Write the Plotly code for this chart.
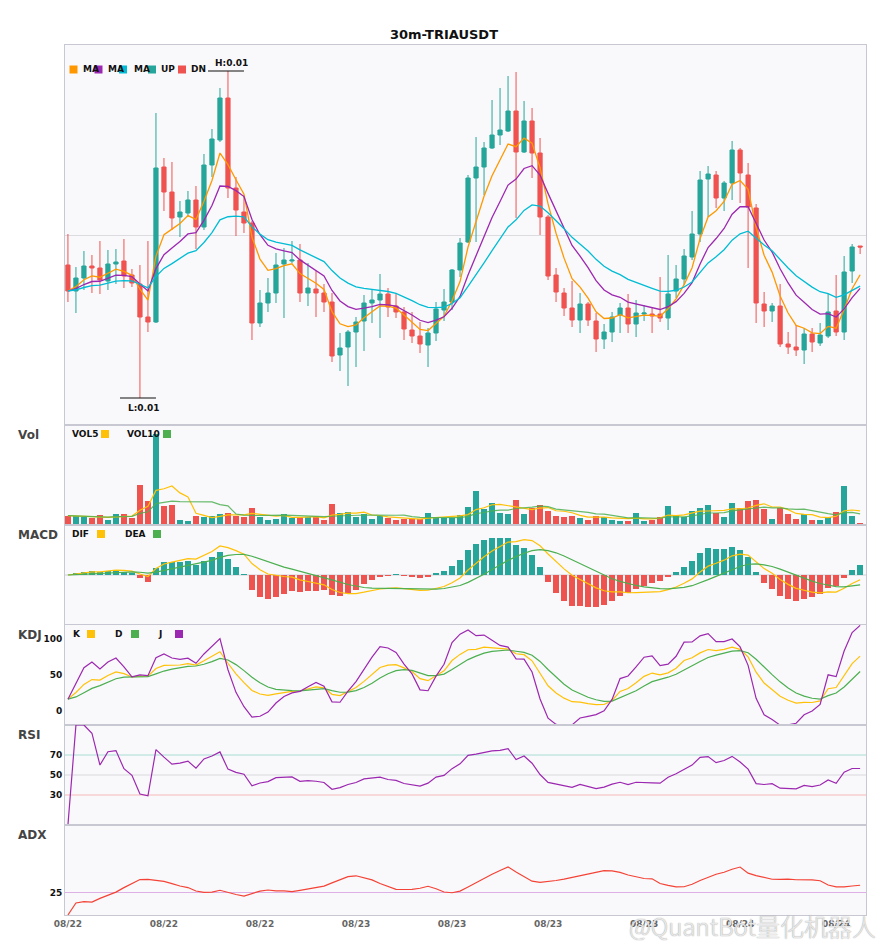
import numpy as np
import pandas as pd
import plotly.graph_objects as go
from plotly.subplots import make_subplots

symbol = "TRIAUSDT"
interval = "30m"
times = pd.date_range("2025-08-22 06:00", periods=100, freq="30min")

open_ = [0.00970, 0.00944, 0.00957, 0.00969, 0.00967, 0.00954, 0.00971, 0.00974, 0.00960, 0.00951,
         0.00918, 0.00913, 0.01068, 0.01043, 0.01018, 0.01022, 0.01035, 0.01008, 0.01070, 0.01095,
         0.01137, 0.01047, 0.01023, 0.01012, 0.00912, 0.00932, 0.00942, 0.00971, 0.00974, 0.00975,
         0.00942, 0.00946, 0.00942, 0.00933, 0.00880, 0.00888, 0.00903, 0.00914, 0.00932, 0.00935,
         0.00941, 0.00929, 0.00923, 0.00905, 0.00899, 0.00890, 0.00902, 0.00925, 0.00933, 0.00965,
         0.00993, 0.01057, 0.01068, 0.01087, 0.01100, 0.01104, 0.01124, 0.01083, 0.01114, 0.01082,
         0.01018, 0.00960, 0.00942, 0.00927, 0.00915, 0.00931, 0.00914, 0.00896, 0.00903, 0.00920,
         0.00927, 0.00911, 0.00921, 0.00921, 0.00921, 0.00917, 0.00944, 0.00956, 0.00978, 0.01001,
         0.01056, 0.01060, 0.01037, 0.01052, 0.01085, 0.01060, 0.01027, 0.00931, 0.00924, 0.00929,
         0.00891, 0.00888, 0.00885, 0.00901, 0.00892, 0.00899, 0.00924, 0.00903, 0.00964, 0.00989]
high = [0.01001, 0.00968, 0.00984, 0.00980, 0.00994, 0.00985, 0.00986, 0.00996, 0.00966, 0.00970,
        0.00994, 0.01122, 0.01077, 0.01073, 0.01034, 0.01044, 0.01049, 0.01081, 0.01106, 0.01147,
        0.01164, 0.01058, 0.01040, 0.01014, 0.00945, 0.00957, 0.00982, 0.00987, 0.00994, 0.00991,
        0.00972, 0.00964, 0.00951, 0.00942, 0.00902, 0.00905, 0.00918, 0.00940, 0.00945, 0.00961,
        0.00947, 0.00942, 0.00928, 0.00923, 0.00913, 0.00907, 0.00933, 0.00946, 0.00966, 0.00997,
        0.01060, 0.01098, 0.01093, 0.01135, 0.01147, 0.01159, 0.01163, 0.01134, 0.01127, 0.01097,
        0.01020, 0.00967, 0.00947, 0.00954, 0.00942, 0.00933, 0.00922, 0.00911, 0.00923, 0.00932,
        0.00941, 0.00935, 0.00930, 0.00927, 0.00958, 0.00980, 0.00970, 0.00986, 0.01024, 0.01064,
        0.01069, 0.01064, 0.01054, 0.01094, 0.01087, 0.01072, 0.01031, 0.00943, 0.00932, 0.00951,
        0.00903, 0.00910, 0.00907, 0.00907, 0.00912, 0.00941, 0.00960, 0.00979, 0.00991, 0.00989]
low = [0.00933, 0.00922, 0.00945, 0.00942, 0.00941, 0.00945, 0.00951, 0.00947, 0.00948, 0.00837,
       0.00903, 0.00912, 0.01024, 0.01005, 0.00998, 0.01018, 0.00986, 0.01005, 0.01058, 0.01093,
       0.01037, 0.00999, 0.01002, 0.00895, 0.00908, 0.00923, 0.00932, 0.00917, 0.00972, 0.00933,
       0.00929, 0.00918, 0.00923, 0.00873, 0.00864, 0.00849, 0.00868, 0.00884, 0.00912, 0.00897,
       0.00918, 0.00917, 0.00895, 0.00892, 0.00882, 0.00868, 0.00894, 0.00914, 0.00925, 0.00958,
       0.00992, 0.00993, 0.01040, 0.01086, 0.01090, 0.01103, 0.01017, 0.01082, 0.01057, 0.01000,
       0.00955, 0.00933, 0.00919, 0.00908, 0.00902, 0.00909, 0.00883, 0.00886, 0.00893, 0.00902,
       0.00902, 0.00898, 0.00914, 0.00902, 0.00913, 0.00905, 0.00937, 0.00950, 0.00975, 0.00993,
       0.01018, 0.01027, 0.01024, 0.01035, 0.01032, 0.00967, 0.00912, 0.00908, 0.00913, 0.00888,
       0.00881, 0.00879, 0.00871, 0.00883, 0.00889, 0.00897, 0.00899, 0.00895, 0.00952, 0.00981]
close = [0.00944, 0.00957, 0.00969, 0.00967, 0.00955, 0.00971, 0.00973, 0.00959, 0.00952, 0.00918,
         0.00913, 0.01067, 0.01043, 0.01017, 0.01023, 0.01035, 0.01008, 0.01070, 0.01096, 0.01137,
         0.01047, 0.01025, 0.01012, 0.00912, 0.00932, 0.00942, 0.00970, 0.00975, 0.00975, 0.00942,
         0.00947, 0.00942, 0.00933, 0.00879, 0.00887, 0.00903, 0.00913, 0.00932, 0.00935, 0.00941,
         0.00928, 0.00923, 0.00906, 0.00899, 0.00891, 0.00902, 0.00926, 0.00933, 0.00965, 0.00992,
         0.01057, 0.01068, 0.01087, 0.01100, 0.01105, 0.01124, 0.01083, 0.01114, 0.01082, 0.01018,
         0.00959, 0.00943, 0.00927, 0.00915, 0.00931, 0.00915, 0.00896, 0.00903, 0.00918, 0.00927,
         0.00911, 0.00922, 0.00922, 0.00919, 0.00917, 0.00941, 0.00956, 0.00979, 0.01001, 0.01055,
         0.01061, 0.01037, 0.01052, 0.01085, 0.01062, 0.01028, 0.00932, 0.00924, 0.00929, 0.00891,
         0.00888, 0.00885, 0.00901, 0.00893, 0.00900, 0.00923, 0.00903, 0.00963, 0.00988, 0.00988]
volume = [9300, 8700, 7700, 6700, 10300, 4700, 11300, 11300, 6700, 39300,
          24300, 90300, 19300, 20300, 5300, 4300, 9300, 8300, 9300, 11300,
          12300, 9300, 7700, 17300, 7700, 5300, 6300, 11300, 7000, 7700,
          7700, 7700, 5300, 20700, 11700, 13300, 7700, 10700, 6300, 9300,
          6700, 5300, 5700, 5700, 5700, 11700, 8300, 7300, 7300, 10300,
          18300, 33300, 16300, 22300, 12300, 11300, 25300, 10700, 16700, 20300,
          13700, 9300, 8300, 9300, 7300, 5300, 9300, 8300, 5300, 4300,
          4300, 12300, 4300, 5300, 8300, 19300, 9300, 8300, 14300, 17300,
          20300, 12300, 8300, 22300, 17300, 24300, 25300, 16300, 6300, 17300,
          11300, 6300, 11300, 5300, 5300, 8300, 13300, 38300, 9300, 1300]

df = pd.DataFrame({"open": open_, "high": high, "low": low, "close": close, "vol": volume}, index=times)

# indicators
df["ma5"] = df["close"].ewm(span=5, adjust=False).mean()
df["ma10"] = df["close"].ewm(span=10, adjust=False).mean()
df["ma20"] = df["close"].ewm(span=20, adjust=False).mean()
df["vol5"] = df["vol"].rolling(5, min_periods=1).mean()
df["vol10"] = df["vol"].rolling(10, min_periods=1).mean()

ema12 = df["close"].ewm(span=12, adjust=False).mean()
ema26 = df["close"].ewm(span=26, adjust=False).mean()
df["dif"] = ema12 - ema26
df["dea"] = df["dif"].ewm(span=9, adjust=False).mean()
df["macd"] = (df["dif"] - df["dea"]) * 2

low9 = df["low"].rolling(9, min_periods=1).min()
high9 = df["high"].rolling(9, min_periods=1).max()
rsv = (df["close"] - low9) / (high9 - low9) * 100
df["k"] = rsv.ewm(com=2, adjust=False).mean()
df["d"] = df["k"].ewm(com=2, adjust=False).mean()
df["j"] = 3 * df["k"] - 2 * df["d"]

delta = df["close"].diff().fillna(0)
gain = delta.clip(lower=0).ewm(alpha=1 / 14, adjust=False).mean()
loss = (-delta.clip(upper=0)).ewm(alpha=1 / 14, adjust=False).mean()
df["rsi"] = (100 * gain / (gain + loss)).fillna(0)

up_move = df["high"].diff()
down_move = -df["low"].diff()
plus_dm = pd.Series(np.where((up_move > down_move) & (up_move > 0), up_move, 0.0), index=times)
minus_dm = pd.Series(np.where((down_move > up_move) & (down_move > 0), down_move, 0.0), index=times)
prev_close = df["close"].shift()
tr = pd.concat([df["high"] - df["low"], (df["high"] - prev_close).abs(),
                (df["low"] - prev_close).abs()], axis=1).max(axis=1)
atr = tr.ewm(span=14, adjust=False).mean()
pdi = 100 * plus_dm.ewm(span=14, adjust=False).mean() / atr
mdi = 100 * minus_dm.ewm(span=14, adjust=False).mean() / atr
dx = (100 * (pdi - mdi).abs() / (pdi + mdi)).fillna(0)
df["adx"] = dx.ewm(span=14, adjust=False).mean()

UP = "#26a69a"
DN = "#ef5350"
BORDER = "#c8c8d2"
FONT = "DejaVu Sans"

bar_colors = [UP if c >= o else DN for o, c in zip(df["open"], df["close"])]
hist_colors = [UP if h >= 0 else DN for h in df["macd"]]

fig = make_subplots(rows=6, cols=1, shared_xaxes=True, vertical_spacing=0,
                    row_heights=[380, 100, 100, 100, 100, 90])

fig.add_trace(go.Candlestick(x=times, open=df["open"], high=df["high"], low=df["low"], close=df["close"],
                             increasing=dict(line=dict(color=UP, width=1), fillcolor=UP),
                             decreasing=dict(line=dict(color=DN, width=1), fillcolor=DN),
                             name="K"), row=1, col=1)
fig.add_trace(go.Scatter(x=times, y=df["ma5"], mode="lines", line=dict(color="#ff9800", width=1.3), name="MA5"), row=1, col=1)
fig.add_trace(go.Scatter(x=times, y=df["ma10"], mode="lines", line=dict(color="#9c27b0", width=1.3), name="MA10"), row=1, col=1)
fig.add_trace(go.Scatter(x=times, y=df["ma20"], mode="lines", line=dict(color="#00bcd4", width=1.3), name="MA20"), row=1, col=1)

bar_w = 30 * 60 * 1000 * 0.75
fig.add_trace(go.Bar(x=times, y=df["vol"], marker=dict(color=bar_colors, line=dict(width=0)), width=bar_w, name="Vol"), row=2, col=1)
fig.add_trace(go.Scatter(x=times, y=df["vol5"], mode="lines", line=dict(color="#ffc107", width=1.2), name="VOL5"), row=2, col=1)
fig.add_trace(go.Scatter(x=times, y=df["vol10"], mode="lines", line=dict(color="rgba(76,175,80,0.85)", width=1.2), name="VOL10"), row=2, col=1)

fig.add_trace(go.Bar(x=times, y=df["macd"], marker=dict(color=hist_colors, line=dict(width=0)), width=bar_w, name="MACD"), row=3, col=1)
fig.add_trace(go.Scatter(x=times, y=df["dif"], mode="lines", line=dict(color="#ffc107", width=1.2), name="DIF"), row=3, col=1)
fig.add_trace(go.Scatter(x=times, y=df["dea"], mode="lines", line=dict(color="#4caf50", width=1.2), name="DEA"), row=3, col=1)

fig.add_trace(go.Scatter(x=times, y=df["k"], mode="lines", line=dict(color="#ffc107", width=1.2), name="K"), row=4, col=1)
fig.add_trace(go.Scatter(x=times, y=df["d"], mode="lines", line=dict(color="#4caf50", width=1.2), name="D"), row=4, col=1)
fig.add_trace(go.Scatter(x=times, y=df["j"], mode="lines", line=dict(color="#9c27b0", width=1.2), name="J"), row=4, col=1)

fig.add_trace(go.Scatter(x=times, y=df["rsi"], mode="lines", line=dict(color="#9c27b0", width=1.2), name="RSI"), row=5, col=1)
fig.add_trace(go.Scatter(x=times, y=df["adx"], mode="lines", line=dict(color="#f44336", width=1.2), name="ADX"), row=6, col=1)

# reference lines
ref_lines = [(3, 0, "#cfcfd6"),
             (4, 100, "#a8dcd3"), (4, 50, "#d9d9de"), (4, 0, "#f7b8b8"),
             (5, 70, "#a8dcd3"), (5, 50, "#d9d9de"), (5, 30, "#f7b8b8"),
             (6, 25, "#ddb0e6")]
for row, val, col in ref_lines:
    fig.add_hline(y=val, row=row, col=1, line=dict(color=col, width=1), layer="below")

# high / low markers
hi_i = int(np.argmax(df["high"].values))
lo_i = int(np.argmin(df["low"].values))
step = pd.Timedelta(minutes=30)
for i, val, txt, anchor, shift in [(hi_i, df["high"].iloc[hi_i], f"H:{df['high'].max():.2f}", "bottom", 1),
                                   (lo_i, df["low"].iloc[lo_i], f"L:{df['low'].min():.2f}", "top", -3)]:
    fig.add_shape(type="line", xref="x", yref="y", x0=times[i] - 2.5 * step, x1=times[i] + 2 * step,
                  y0=val, y1=val, line=dict(color="#111111", width=1.2))
    fig.add_annotation(x=times[i] + 0.5 * step, y=val, xref="x", yref="y", text=txt, showarrow=False,
                       yanchor=anchor, yshift=shift, font=dict(family=FONT, size=9, color="#111111", weight="bold"))

# the page adds an 8px body margin, so the figure is sized to fit the window
W, H = 877, 942
L_, R_, T_, B_ = 57, 19, 37, 35
OFF = 8


def px(x):
    return (x - OFF - L_) / (W - L_ - R_)


def py(y):
    return (H - B_ - (y - OFF)) / (H - T_ - B_)


# panel titles
for label, y in [("Vol", 435), ("MACD", 535), ("KDJ", 635), ("RSI", 735), ("ADX", 835)]:
    fig.add_annotation(x=px(16), y=py(y), xref="paper", yref="paper", text=label, showarrow=False,
                       xanchor="left", yanchor="middle",
                       font=dict(family=FONT, size=12, color="#444444", weight="bold"))

# small in-panel keys: text then colour square
keys = [("VOL5", 70, 101, 434, "#ffc107"), ("VOL10", 125, 163, 434, "#4caf50"),
        ("DIF", 70, 97, 534, "#ffc107"), ("DEA", 123, 153, 534, "#4caf50"),
        ("K", 71, 87, 634, "#ffc107"), ("D", 113, 131, 634, "#4caf50"), ("J", 156, 175, 634, "#9c27b0")]
for txt, tx, sx, y, col in keys:
    fig.add_annotation(x=px(tx), y=py(y), xref="paper", yref="paper", text=txt, showarrow=False,
                       xanchor="left", yanchor="middle",
                       font=dict(family=FONT, size=9, color="#111111", weight="bold"))
    fig.add_shape(type="rect", xref="paper", yref="paper", x0=px(sx), x1=px(sx + 8),
                  y0=py(y - 4), y1=py(y + 4), line=dict(width=0), fillcolor=col)

# main key: square then label, packed tight as in the original
main_keys = [("MA", 69.5, 81, "#ff9800"), ("MA", 94.5, 105.5, "#9c27b0"), ("MA", 119, 131.5, "#00bcd4"),
             ("UP", 148, 159, UP), ("DN", 178, 189, DN)]
for txt, sx, tx, col in main_keys:
    fig.add_annotation(x=px(tx), y=py(69), xref="paper", yref="paper", text=txt, showarrow=False,
                       xanchor="left", yanchor="middle",
                       font=dict(family=FONT, size=9, color="#111111", weight="bold"))
    fig.add_shape(type="rect", xref="paper", yref="paper", x0=px(sx), x1=px(sx + 8),
                  y0=py(73.5), y1=py(65.5), line=dict(width=0), fillcolor=col)

# watermark (hollow grey lettering)
fig.add_annotation(x=px(878), y=py(925), xref="paper", yref="paper", text="@QuantBot量化机器人",
                   showarrow=False, xanchor="right", yanchor="middle",
                   font=dict(family="Noto Sans CJK SC", size=24, weight=300,
                             color="rgba(255,255,255,0.75)",
                             shadow="0px 0px 1px #9a9a9a, 0px 0px 1px #9a9a9a"))

macd_lim = 1.35 * df[["dif", "dea", "macd"]].abs().max().max()
x_range = [times[0] - pd.Timedelta(minutes=11), times[-1] + pd.Timedelta(minutes=22)]
fig.update_xaxes(showline=True, mirror=True, linecolor=BORDER, linewidth=1, showgrid=False,
                 zeroline=False, rangeslider_visible=False, range=x_range, showticklabels=False,
                 ticks="")
fig.update_xaxes(showticklabels=True, tickformat="%m/%d", dtick=6 * 3600 * 1000,
                 tick0="2025-08-22 06:00", tickfont=dict(family=FONT, size=9, color="#666666", weight="bold"),
                 row=6, col=1)
fig.update_yaxes(showline=True, mirror=True, linecolor=BORDER, linewidth=1, showgrid=False,
                 zeroline=False, ticks="", tickfont=dict(family=FONT, size=9, color="#111111", weight="bold"))
fig.update_yaxes(range=[0.00810, 0.01190], tickvals=[0.0100], showticklabels=False,
                 showgrid=True, gridcolor="#dcdce0", row=1, col=1)
fig.update_yaxes(range=[0, df["vol"].max() * 1.1], showticklabels=False, row=2, col=1)
fig.update_yaxes(range=[-macd_lim, macd_lim], showticklabels=False, row=3, col=1)
fig.update_yaxes(range=[-20, 120], tickvals=[0, 50, 100], row=4, col=1)
fig.update_yaxes(range=[0, 100], tickvals=[30, 50, 70], row=5, col=1)
fig.update_yaxes(range=[0, 100], tickvals=[25], row=6, col=1)

fig.update_layout(
    width=W, height=H,
    margin=dict(l=L_, r=R_, t=T_, b=B_),
    title=dict(text=f"{interval}-{symbol}", x=(444 - OFF) / W, xanchor="center", xref="container",
               y=1 - (34 - OFF) / H, yanchor="middle",
               font=dict(family=FONT, size=13, color="#111111", weight="bold")),
    paper_bgcolor="white",
    plot_bgcolor="#f9f9fb",
    showlegend=False,
    boxgap=0.25,
    bargap=0,
    font=dict(family=FONT),
)

fig.write_html("out.html")
